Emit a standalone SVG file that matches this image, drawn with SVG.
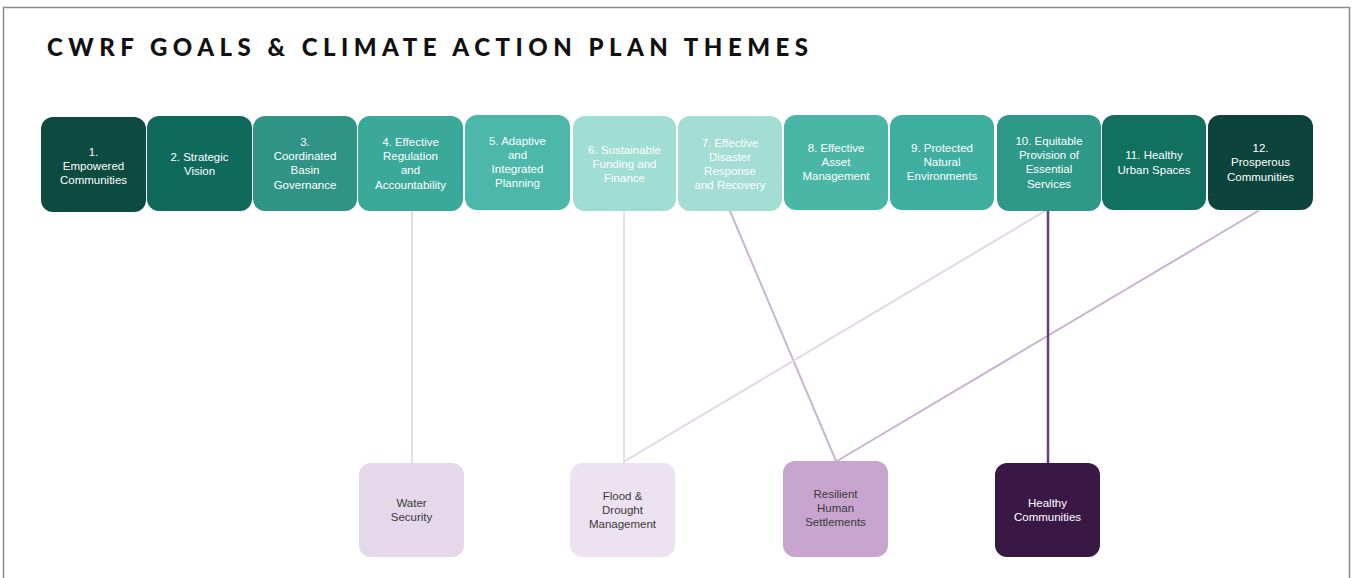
<svg xmlns="http://www.w3.org/2000/svg" width="1353" height="578" viewBox="0 0 1353 578">
<style>
.t{font-family:"Liberation Sans",Arial,sans-serif;font-size:11.5px;text-anchor:middle}
.w{fill:#ffffff}
.d{fill:#3a3a3a}
.title{font-family:Lato,"Liberation Sans",sans-serif;font-weight:900;font-size:24px;fill:#111111}
.c{fill:none;stroke-linecap:round}
</style>
<rect x="0" y="0" width="1353" height="578" fill="#ffffff"/>
<path d="M3.5,578 V7.5 H1349.5 V578" fill="none" stroke="#8a8a8a" stroke-width="1.5"/>
<text class="title" x="47" y="56" textLength="761" lengthAdjust="spacing">CWRF GOALS &amp; CLIMATE ACTION PLAN THEMES</text>

<g id="connectors">
<line class="c" x1="412" y1="211" x2="412" y2="463" stroke="#e2dde8" stroke-width="2"/>
<line class="c" x1="624" y1="211" x2="624" y2="463" stroke="#e4e0ea" stroke-width="2"/>
<line class="c" x1="730" y1="211" x2="836" y2="461" stroke="#c9b5d2" stroke-width="2"/>
<line class="c" x1="1045" y1="211" x2="625" y2="461" stroke="#e3d6e7" stroke-width="2"/>
<line class="c" x1="1258" y1="211" x2="837" y2="461" stroke="#cbb3d3" stroke-width="2"/>
<line class="c" x1="1048" y1="211" x2="1048" y2="463" stroke="#6a3e7c" stroke-width="2.5"/>
</g>

<g id="g1"><rect x="41" y="117" width="105" height="95" rx="12" fill="#0d4a40"/>
<text class="t w" x="93.5"><tspan x="93.5" y="156">1.</tspan><tspan x="93.5" y="170">Empowered</tspan><tspan x="93.5" y="184">Communities</tspan></text></g>
<g id="g2"><rect x="147" y="116" width="105" height="95" rx="12" fill="#0f6a5c"/>
<text class="t w"><tspan x="199.5" y="161">2. Strategic</tspan><tspan x="199.5" y="175">Vision</tspan></text></g>
<g id="g3"><rect x="253" y="116" width="104" height="95" rx="12" fill="#2f9486"/>
<text class="t w"><tspan x="305" y="146">3.</tspan><tspan x="305" y="160">Coordinated</tspan><tspan x="305" y="174">Basin</tspan><tspan x="305" y="189">Governance</tspan></text></g>
<g id="g4"><rect x="358" y="116" width="105" height="95" rx="12" fill="#3aa99a"/>
<text class="t w"><tspan x="410.5" y="146">4. Effective</tspan><tspan x="410.5" y="160">Regulation</tspan><tspan x="410.5" y="174">and</tspan><tspan x="410.5" y="189">Accountability</tspan></text></g>
<g id="g5"><rect x="465" y="115" width="105" height="95" rx="12" fill="#4bb8a9"/>
<text class="t w"><tspan x="517.5" y="145">5. Adaptive</tspan><tspan x="517.5" y="159">and</tspan><tspan x="517.5" y="173">Integrated</tspan><tspan x="517.5" y="187">Planning</tspan></text></g>
<g id="g6"><rect x="573" y="116" width="103" height="95" rx="12" fill="#a0ddd3"/>
<text class="t w"><tspan x="624.5" y="154">6. Sustainable</tspan><tspan x="624.5" y="168">Funding and</tspan><tspan x="624.5" y="182">Finance</tspan></text></g>
<g id="g7"><rect x="678" y="116" width="104" height="95" rx="12" fill="#a4ddd4"/>
<text class="t w"><tspan x="730" y="147">7. Effective</tspan><tspan x="730" y="161">Disaster</tspan><tspan x="730" y="175">Response</tspan><tspan x="730" y="189">and Recovery</tspan></text></g>
<g id="g8"><rect x="784" y="115" width="104" height="95" rx="12" fill="#4ab6a6"/>
<text class="t w"><tspan x="836" y="152">8. Effective</tspan><tspan x="836" y="166">Asset</tspan><tspan x="836" y="180">Management</tspan></text></g>
<g id="g9"><rect x="890" y="115" width="104" height="95" rx="12" fill="#3eaea0"/>
<text class="t w"><tspan x="942" y="152">9. Protected</tspan><tspan x="942" y="166">Natural</tspan><tspan x="942" y="180">Environments</tspan></text></g>
<g id="g10"><rect x="997" y="115" width="104" height="96" rx="12" fill="#2e9988"/>
<text class="t w"><tspan x="1049" y="145">10. Equitable</tspan><tspan x="1049" y="159">Provision of</tspan><tspan x="1049" y="173">Essential</tspan><tspan x="1049" y="188">Services</tspan></text></g>
<g id="g11"><rect x="1102" y="115" width="104" height="95" rx="12" fill="#12705f"/>
<text class="t w"><tspan x="1154" y="159">11. Healthy</tspan><tspan x="1154" y="174">Urban Spaces</tspan></text></g>
<g id="g12"><rect x="1208" y="115" width="105" height="95" rx="12" fill="#0c443b"/>
<text class="t w"><tspan x="1260.5" y="152">12.</tspan><tspan x="1260.5" y="166">Prosperous</tspan><tspan x="1260.5" y="181">Communities</tspan></text></g>

<g id="water"><rect x="359" y="463" width="105" height="94" rx="12" fill="#e5d8ea"/>
<text class="t d"><tspan x="411.5" y="507">Water</tspan><tspan x="411.5" y="521">Security</tspan></text></g>
<g id="flood"><rect x="570" y="463" width="105" height="94" rx="12" fill="#ede3f0"/>
<text class="t d"><tspan x="622.5" y="500">Flood &amp;</tspan><tspan x="622.5" y="514">Drought</tspan><tspan x="622.5" y="528">Management</tspan></text></g>
<g id="resilient"><rect x="783" y="461" width="105" height="96" rx="12" fill="#c8a5cf"/>
<text class="t d"><tspan x="835.5" y="498">Resilient</tspan><tspan x="835.5" y="512">Human</tspan><tspan x="835.5" y="526">Settlements</tspan></text></g>
<g id="healthy"><rect x="995" y="463" width="105" height="94" rx="12" fill="#3a1845"/>
<text class="t w"><tspan x="1047.5" y="507">Healthy</tspan><tspan x="1047.5" y="521">Communities</tspan></text></g>
</svg>
